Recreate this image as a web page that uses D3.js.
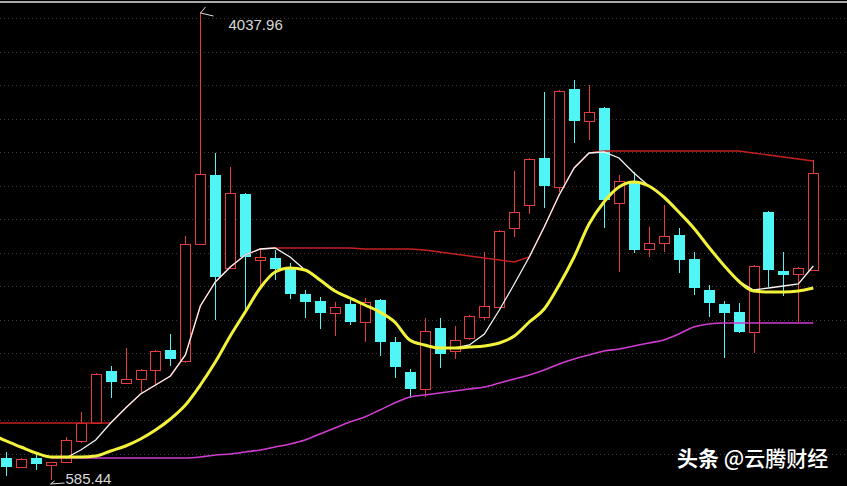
<!DOCTYPE html>
<html>
<head>
<meta charset="utf-8">
<script src="https://cdn.jsdelivr.net/npm/d3@7"></script>
<style>
  html, body { margin: 0; padding: 0; background: #000; overflow: hidden; }
</style>
</head>
<body>
<svg id="chart" width="847" height="486"></svg>
<script>
// Daily candles (price units)
const openP  = [747.7, 681.4, 747.7, 696.1, 718.2, 873.2, 1005.9, 1389.6, 1301.0, 1330.5, 1396.9, 1544.5, 1463.3, 2326.5, 2835.5, 2149.4, 2695.3, 2208.4, 2223.2, 2142.0, 1957.6, 1906.0, 1817.4, 1883.8, 1751.0, 1913.3, 1603.5, 1382.2, 1256.8, 1706.8, 1537.1, 1633.0, 1787.9, 1861.7, 2444.5, 2614.2, 2960.9, 2747.0, 3469.9, 3233.9, 3329.8, 2628.9, 2776.5, 2289.6, 2333.8, 2392.9, 2215.8, 1987.1, 1883.8, 1824.8, 1677.3, 2562.5, 2127.3, 2105.2, 2134.7];
const highP  = [792.0, 747.7, 784.6, 718.2, 902.7, 1087.1, 1374.8, 1426.4, 1559.2, 1404.3, 1544.5, 1662.5, 2385.5, 4037.96, 2997.8, 2894.5, 2702.7, 2297.0, 2282.2, 2186.3, 1987.1, 1935.5, 1898.6, 1913.3, 1928.1, 1920.7, 1640.4, 1404.3, 1780.6, 1780.6, 1721.5, 1802.7, 2267.4, 2429.7, 2865.0, 2960.9, 3447.8, 3462.6, 3536.3, 3499.4, 3337.1, 2835.5, 2857.6, 2451.9, 2614.2, 2444.5, 2267.4, 2024.0, 1906.0, 1891.2, 2171.5, 2569.9, 2267.4, 2156.8, 2946.2];
const lowP   = [615.0, 674.0, 659.2, 585.44, 710.9, 858.4, 1005.9, 1190.4, 1293.7, 1227.3, 1278.9, 1426.4, 1448.6, 2326.5, 1765.8, 2142.0, 1824.8, 1987.1, 2060.9, 1920.7, 1780.6, 1699.4, 1647.8, 1728.9, 1603.5, 1500.2, 1337.9, 1190.4, 1197.8, 1411.7, 1478.1, 1618.3, 1765.8, 1861.7, 2378.1, 2547.8, 2592.0, 2710.1, 3071.6, 3093.7, 2444.5, 2119.9, 2260.1, 2230.6, 2267.4, 2112.5, 1950.2, 1787.9, 1485.5, 1669.9, 1522.4, 2009.2, 1942.9, 1751.0, 2127.3];
const closeP = [681.4, 740.4, 703.5, 718.2, 880.5, 1005.9, 1367.4, 1308.4, 1330.5, 1396.9, 1537.1, 1478.1, 2326.5, 2842.9, 2083.0, 2702.7, 2230.6, 2230.6, 2142.0, 1957.6, 1898.6, 1817.4, 1861.7, 1751.0, 1898.6, 1603.5, 1419.1, 1256.8, 1684.6, 1515.0, 1618.3, 1795.3, 1869.1, 2422.4, 2562.5, 2953.5, 2754.3, 3455.2, 3233.9, 3300.3, 2651.1, 2791.2, 2282.2, 2333.8, 2385.5, 2208.4, 2001.9, 1891.2, 1817.4, 1677.3, 2164.2, 2134.7, 2097.8, 2149.4, 2850.2];

// Indicator lines; first slot belongs to the bar just left of the first visible candle
const lineWhite = [null, null, null, null, null, 747.7, 806.8, 880.5, 1005.9, 1116.6, 1219.9, 1286.3, 1352.7, 1507.6, 1869.1, 2046.1, 2156.8, 2245.3, 2289.6, 2297.0, 2230.6, 2134.7, 2060.9, 1979.7, 1928.1, 1876.5, 1824.8, 1751.0, 1618.3, 1581.4, 1559.2, 1559.2, 1581.4, 1662.5, 1839.6, 2031.4, 2230.6, 2451.9, 2688.0, 2887.1, 2997.8, 3005.2, 2960.9, 2850.2, 2754.3, 2673.2, 2562.5, 2444.5, 2304.3, 2171.5, 2053.5, 1987.1, 2001.9, 2016.6, 2031.4, 2164.2];
const lineYellow = [924.8, 873.2, 828.9, 784.6, 755.1, 755.1, 755.1, 762.5, 799.4, 836.3, 887.9, 954.3, 1035.5, 1138.7, 1286.3, 1456.0, 1647.8, 1824.8, 2001.9, 2119.9, 2149.4, 2134.7, 2060.9, 1979.7, 1928.1, 1876.5, 1824.8, 1751.0, 1618.3, 1581.4, 1559.2, 1559.2, 1566.6, 1574.0, 1596.1, 1647.8, 1751.0, 1846.9, 2024.0, 2230.6, 2474.0, 2636.3, 2747.0, 2783.9, 2754.3, 2673.2, 2562.5, 2444.5, 2304.3, 2171.5, 2053.5, 1979.7, 1972.4, 1972.4, 1979.7, 2001.9];
const lineRed = [1005.9, 1005.9, 1005.9, 1005.9, 1005.9, 1005.9, 1005.9, 1005.9, 1005.9, 1116.6, 1219.9, 1286.3, 1352.7, 1507.6, 1869.1, 2046.1, 2156.8, 2245.3, 2289.6, 2297.0, 2297.0, 2297.0, 2297.0, 2297.0, 2297.0, 2289.6, 2289.6, 2289.6, 2289.6, 2282.2, 2267.4, 2252.7, 2237.9, 2223.2, 2208.4, 2193.7, 2230.6, 2451.9, 2688.0, 2887.1, 2997.8, 3012.5, 3012.5, 3012.5, 3012.5, 3012.5, 3012.5, 3012.5, 3012.5, 3012.5, 3012.5, 2997.8, 2983.0, 2968.3, 2953.5, 2938.8];
const lineMagenta = [null, null, null, null, 747.7, 747.7, 747.7, 747.7, 747.7, 747.7, 747.7, 747.7, 747.7, 747.7, 755.1, 769.9, 777.3, 792.0, 806.8, 828.9, 851.0, 880.5, 924.8, 969.1, 1013.3, 1050.2, 1101.8, 1153.5, 1197.8, 1212.5, 1227.3, 1242.0, 1256.8, 1271.5, 1301.0, 1330.5, 1360.1, 1396.9, 1441.2, 1478.1, 1507.6, 1537.1, 1551.9, 1574.0, 1596.1, 1618.3, 1662.5, 1714.2, 1736.3, 1743.7, 1743.7, 1743.7, 1743.7, 1743.7, 1743.7, 1743.7];

const W = 847, H = 486;
const COL_UP = "#e63c3c", COL_DOWN = "#50f6f6";

const svg = d3.select("#chart");
svg.append("rect").attr("width", W).attr("height", H).attr("fill", "#000");

const x = d3.scaleLinear().domain([0, openP.length - 1]).range([6, 813.3]);
const y = d3.scaleLinear().domain([585.44, 4037.96]).range([480, 12]);

svg.append("defs").append("clipPath").attr("id", "plot")
  .append("rect").attr("x", 0).attr("y", 3).attr("width", W).attr("height", H - 3);

// panel top border
svg.append("line").attr("x1", 0).attr("x2", W).attr("y1", 2).attr("y2", 2)
  .attr("stroke", "#a8a8a8").attr("stroke-width", 2);

// dotted horizontal grid
svg.append("g").selectAll("line")
  .data(d3.range(14).map(k => Math.round(18 + 33.5 * k) + 0.5))
  .join("line")
  .attr("x1", 0).attr("x2", W)
  .attr("y1", d => d).attr("y2", d => d)
  .attr("stroke", "#3c3c3c").attr("stroke-dasharray", "1,3");

const plot = svg.append("g").attr("clip-path", "url(#plot)");

// candles
const candles = openP.map((o, i) => ({ i, o, h: highP[i], l: lowP[i], c: closeP[i] }));
const cg = plot.append("g");
candles.forEach(d => {
  const cx = Math.round(x(d.i)) + 0.5;
  const up = d.c >= d.o;
  const top = Math.round(y(Math.max(d.o, d.c)));
  const bot = Math.round(y(Math.min(d.o, d.c)));
  const yh = y(d.h), yl = y(d.l);
  if (up) {
    cg.append("line").attr("x1", cx).attr("x2", cx).attr("y1", yh).attr("y2", top + 0.5)
      .attr("stroke", COL_UP).attr("stroke-width", 1);
    cg.append("line").attr("x1", cx).attr("x2", cx).attr("y1", Math.max(bot, top + 1) + 0.5).attr("y2", yl)
      .attr("stroke", COL_UP).attr("stroke-width", 1);
    cg.append("rect")
      .attr("x", cx - 5).attr("y", top + 0.5)
      .attr("width", 10).attr("height", Math.max(1, bot - top))
      .attr("fill", "#000").attr("stroke", COL_UP).attr("stroke-width", 1);
  } else {
    cg.append("line").attr("x1", cx).attr("x2", cx).attr("y1", yh).attr("y2", yl)
      .attr("stroke", COL_DOWN).attr("stroke-width", 1);
    cg.append("rect")
      .attr("x", cx - 5.5).attr("y", top)
      .attr("width", 11).attr("height", Math.max(1, bot - top))
      .attr("fill", COL_DOWN);
  }
});

// indicator lines
const toPts = arr => arr.map((v, j) => ({ i: j - 1, v }));
const lineGen = d3.line().defined(d => d.v != null).x(d => x(d.i)).y(d => y(d.v));
const smoothGen = d3.line().defined(d => d.v != null).x(d => x(d.i)).y(d => y(d.v)).curve(d3.curveMonotoneX);

plot.append("path").attr("d", smoothGen(toPts(lineMagenta)))
  .attr("fill", "none").attr("stroke", "#cf3ccf").attr("stroke-width", 1.6);
plot.append("path").attr("d", lineGen(toPts(lineRed)))
  .attr("fill", "none").attr("stroke", "#c42222").attr("stroke-width", 1.4);
plot.append("path").attr("d", lineGen(toPts(lineWhite)))
  .attr("fill", "none").attr("stroke", "#f4f4f4").attr("stroke-width", 1.3);
plot.append("path").attr("d", smoothGen(toPts(lineYellow)))
  .attr("fill", "none").attr("stroke", "#f2f23a").attr("stroke-width", 3);

// extreme price markers
const iMax = d3.maxIndex(highP), iMin = d3.minIndex(lowP);
const hx = Math.round(x(iMax)) + 0.5, hy = y(highP[iMax]);
svg.append("path")
  .attr("d", `M${hx + 5},${hy - 5} L${hx},${hy + 1} L${hx + 13},${hy + 4}`)
  .attr("fill", "none").attr("stroke", "#dcdcdc").attr("stroke-width", 1);
svg.append("text").attr("x", hx + 28).attr("y", hy + 18)
  .attr("font-family", "Liberation Sans, Arial, sans-serif").attr("font-size", 15)
  .attr("fill", "#d8d8d8").text(highP[iMax].toFixed(2));

const lx = Math.round(x(iMin)) + 0.5, ly = y(lowP[iMin]);
svg.append("path")
  .attr("d", `M${lx + 3},${ly + 1} L${lx - 1},${ly + 4} L${lx + 13},${ly + 3}`)
  .attr("fill", "none").attr("stroke", "#dcdcdc").attr("stroke-width", 1);
svg.append("text").attr("x", lx + 14).attr("y", ly + 4)
  .attr("font-family", "Liberation Sans, Arial, sans-serif").attr("font-size", 15)
  .attr("fill", "#d8d8d8").text(lowP[iMin].toFixed(2));

// source tag
const tag = svg.append("text").attr("x", 677).attr("y", 466)
  .attr("font-family", "Noto Sans CJK SC, sans-serif").attr("font-size", 21)
  .attr("fill", "#ffffff");
tag.append("tspan").attr("font-weight", 700).text("头条");
tag.append("tspan").attr("font-weight", 500).text(" @云腾财经");
</script>
</body>
</html>
